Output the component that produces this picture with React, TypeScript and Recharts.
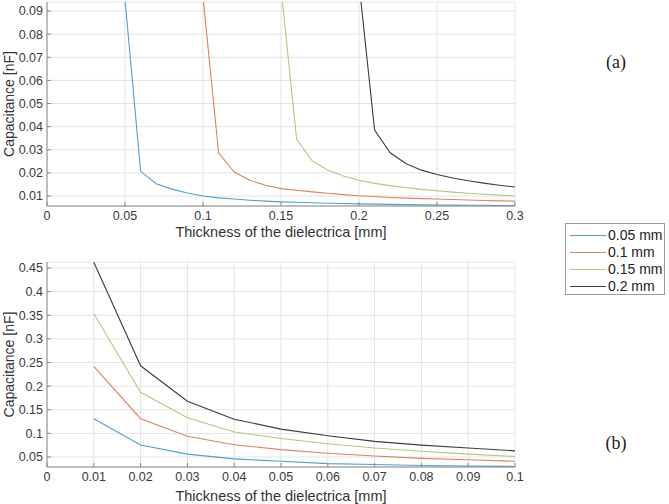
import React from 'react';
import { LineChart, Line, XAxis, YAxis, CartesianGrid } from 'recharts';

// plate spacing of each series
const SERIES_NAMES = ['0.05 mm', '0.1 mm', '0.15 mm', '0.2 mm'];
const SERIES_COLORS = ['#4f9fd4', '#e0825d', '#b3c97a', '#3d3d3d'];

// (a) thickness of the dielectric, 0.05 .. 0.3 mm
const THICKNESS_A = [
  0.05, 0.06, 0.07, 0.08, 0.09, 0.1, 0.11, 0.12, 0.13, 0.14, 0.15, 0.16, 0.17,
  0.18, 0.19, 0.2, 0.21, 0.22, 0.23, 0.24, 0.25, 0.26, 0.27, 0.28, 0.29, 0.3,
];
const CAP_A_005 = [
  0.095, 0.0207, 0.0153, 0.013, 0.0113, 0.01, 0.0092, 0.0087, 0.0082, 0.0078, 0.0075, 0.0073, 0.0071,
  0.0069, 0.0068, 0.0066, 0.0065, 0.0064, 0.0063, 0.0062, 0.0061, 0.0061, 0.006, 0.006, 0.0059, 0.0059,
];
const CAP_A_01 = [
  null, null, null, null, null, 0.096, 0.0287, 0.0204, 0.0168, 0.0147, 0.0132, 0.0125, 0.0118,
  0.0112, 0.0106, 0.0101, 0.0098, 0.0094, 0.0091, 0.0089, 0.0087, 0.0085, 0.0083, 0.0081, 0.0079, 0.0078,
];
const CAP_A_015 = [
  null, null, null, null, null, null, null, null, null, null, 0.1, 0.0345, 0.0252,
  0.0213, 0.0187, 0.0168, 0.0155, 0.0145, 0.0137, 0.0129, 0.0123, 0.0117, 0.0112, 0.0108, 0.0104, 0.01,
];
const CAP_A_02 = [
  null, null, null, null, null, null, null, null, null, null, null, null, null,
  null, null, 0.102, 0.0385, 0.0287, 0.0241, 0.0212, 0.0193, 0.0178, 0.0166, 0.0156, 0.0147, 0.0139,
];
const X_TICKS_A = [0, 0.05, 0.1, 0.15, 0.2, 0.25, 0.3];
const Y_TICKS_A = [0.01, 0.02, 0.03, 0.04, 0.05, 0.06, 0.07, 0.08, 0.09];

// (b) thickness of the dielectric, 0.01 .. 0.1 mm
const THICKNESS_B = [0.01, 0.02, 0.03, 0.04, 0.05, 0.06, 0.07, 0.08, 0.09, 0.1];
const CAP_B_005 = [0.131, 0.0755, 0.056, 0.046, 0.041, 0.036, 0.034, 0.032, 0.031, 0.03];
const CAP_B_01 = [0.242, 0.131, 0.094, 0.076, 0.0655, 0.058, 0.052, 0.047, 0.044, 0.041];
const CAP_B_015 = [0.353, 0.187, 0.133, 0.103, 0.089, 0.078, 0.069, 0.062, 0.056, 0.051];
const CAP_B_02 = [0.462, 0.243, 0.168, 0.13, 0.109, 0.095, 0.083, 0.075, 0.069, 0.063];
const X_TICKS_B = [0, 0.01, 0.02, 0.03, 0.04, 0.05, 0.06, 0.07, 0.08, 0.09, 0.1];
const Y_TICKS_B = [0.05, 0.1, 0.15, 0.2, 0.25, 0.3, 0.35, 0.4, 0.45];

const KEYS = ['s1', 's2', 's3', 's4'];

const buildRows = (xs: number[], cols: (number | null)[][]) =>
  xs.map((x, i) => {
    const row: Record<string, number | null> = { x };
    cols.forEach((c, j) => (row[KEYS[j]] = c[i]));
    return row;
  });

const dataA = buildRows(THICKNESS_A, [CAP_A_005, CAP_A_01, CAP_A_015, CAP_A_02]);
const dataB = buildRows(THICKNESS_B, [CAP_B_005, CAP_B_01, CAP_B_015, CAP_B_02]);

const FONT = '"Liberation Sans", Arial, sans-serif';
const AXIS = '#8a8a8a';
const GRID = '#e4e4e4';
const tickStyle = { fontSize: 12.5, fill: '#3a3a3a', fontFamily: FONT };
const fmt = (v: number) => String(+v.toFixed(2));

type PanelProps = {
  data: Record<string, number | null>[];
  xDomain: [number, number];
  yDomain: [number, number];
  xTicks: number[];
  yTicks: number[];
  xAxisHeight: number;
  xLabelOffset: number;
};

const Panel = ({ data, xDomain, yDomain, xTicks, yTicks, xAxisHeight, xLabelOffset }: PanelProps) => (
  <LineChart width={530} height={250} data={data} margin={{ top: 2, right: 15, bottom: 0, left: 0 }}>
    <CartesianGrid stroke={GRID} strokeWidth={1} />
    <XAxis
      dataKey="x"
      type="number"
      domain={xDomain}
      ticks={xTicks}
      allowDataOverflow
      height={xAxisHeight}
      tickFormatter={fmt}
      tick={tickStyle}
      tickSize={-4}
      tickMargin={9}
      stroke={AXIS}
      interval={0}
      label={{
        value: 'Thickness of the dielectrica [mm]',
        position: 'insideBottom',
        offset: xLabelOffset,
        style: { fontSize: 14.5, fill: '#333', fontFamily: FONT },
      }}
    />
    <XAxis
      xAxisId="top"
      orientation="top"
      type="number"
      domain={xDomain}
      ticks={xTicks}
      allowDataOverflow
      height={0}
      tick={false}
      tickSize={-4}
      stroke={AXIS}
      interval={0}
    />
    <YAxis
      type="number"
      domain={yDomain}
      ticks={yTicks}
      allowDataOverflow
      width={47}
      tickFormatter={fmt}
      tick={tickStyle}
      tickSize={-4}
      tickMargin={8}
      stroke={AXIS}
      interval={0}
      label={{
        value: 'Capacitance [nF]',
        angle: -90,
        position: 'insideLeft',
        offset: 9,
        style: { fontSize: 14, fill: '#333', fontFamily: FONT, textAnchor: 'middle' },
      }}
    />
    <YAxis
      yAxisId="right"
      orientation="right"
      type="number"
      domain={yDomain}
      ticks={yTicks}
      allowDataOverflow
      width={0}
      tick={false}
      tickSize={-4}
      stroke={AXIS}
      interval={0}
    />
    {KEYS.map((k, i) => (
      <Line
        key={k}
        dataKey={k}
        type="linear"
        stroke={SERIES_COLORS[i]}
        strokeWidth={1.1}
        dot={false}
        activeDot={false}
        isAnimationActive={false}
      />
    ))}
  </LineChart>
);

const Legend = () => (
  <div
    style={{
      position: 'absolute',
      left: 565,
      top: 223,
      width: 100,
      height: 72,
      border: '1px solid #9a9a9a',
      background: '#fff',
      boxSizing: 'border-box',
      paddingTop: 3,
      fontFamily: FONT,
      fontSize: 14,
      color: '#222',
      whiteSpace: 'nowrap',
    }}
  >
    {SERIES_NAMES.map((name, i) => (
      <div key={name} style={{ display: 'flex', alignItems: 'center', height: 17 }}>
        <div style={{ marginLeft: 4, width: 36, height: 1, flexShrink: 0, background: SERIES_COLORS[i] }} />
        <span style={{ marginLeft: 2, lineHeight: '17px' }}>{name}</span>
      </div>
    ))}
  </div>
);

const panelTag: React.CSSProperties = {
  position: 'absolute',
  left: 596,
  width: 40,
  textAlign: 'center',
  fontFamily: '"Liberation Serif", "Times New Roman", serif',
  fontSize: 18,
  color: '#222',
};

export default function App() {
  return (
    <div style={{ position: 'absolute', left: 0, top: 0, width: 669, height: 504, background: '#fff', overflow: 'hidden' }}>
      <div style={{ position: 'absolute', left: 0, top: 0 }}>
        <Panel
          data={dataA}
          xDomain={[0, 0.3]}
          yDomain={[0.0057, 0.0939]}
          xTicks={X_TICKS_A}
          yTicks={Y_TICKS_A}
          xAxisHeight={44}
          xLabelOffset={13}
        />
      </div>
      <div style={{ position: 'absolute', left: 0, top: 260 }}>
        <Panel
          data={dataB}
          xDomain={[0, 0.1]}
          yDomain={[0.0288, 0.4627]}
          xTicks={X_TICKS_B}
          yTicks={Y_TICKS_B}
          xAxisHeight={43}
          xLabelOffset={9}
        />
      </div>
      <Legend />
      <div style={{ ...panelTag, top: 52 }}>(a)</div>
      <div style={{ ...panelTag, top: 433 }}>(b)</div>
    </div>
  );
}
